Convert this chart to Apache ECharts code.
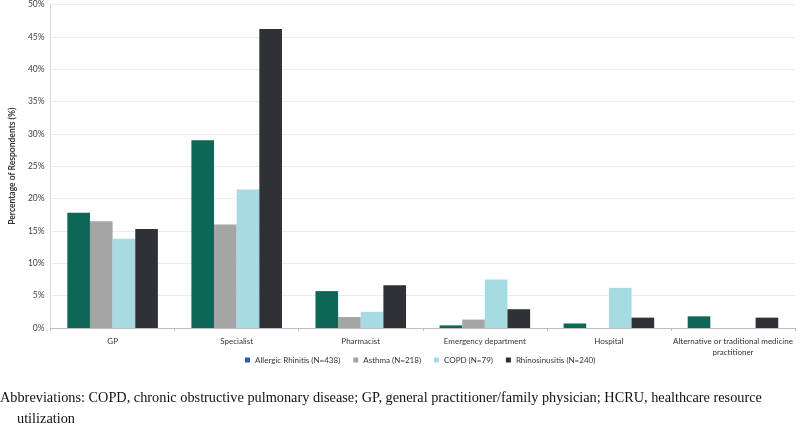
<!DOCTYPE html>
<html><head><meta charset="utf-8">
<script src="https://cdn.jsdelivr.net/npm/echarts@6/dist/echarts.min.js"></script>
<style>html,body{margin:0;padding:0;background:#fff}#c{width:800px;height:431px}</style>
</head><body><div id="c"></div>
<script>
const categories = ["GP", "Specialist", "Pharmacist", "Emergency department", "Hospital", "Alternative or traditional medicine\npractitioner"];
const allergicRhinitis = [17.8, 29.0, 5.7, 0.4, 0.7, 1.8];
const asthma = [16.5, 16.0, 1.7, 1.3, 0, 0];
const copd = [13.8, 21.4, 2.5, 7.5, 6.2, 0];
const rhinosinusitis = [15.3, 46.2, 6.6, 2.9, 1.6, 1.6];
const seriesNames = ["Allergic Rhinitis (N=438)", "Asthma (N=218)", "COPD (N=79)", "Rhinosinusitis (N=240)"];
const yTicks = [0, 5, 10, 15, 20, 25, 30, 35, 40, 45, 50];

const colors = ["#0d6656", "#a5a5a5", "#a6dbe3", "#2e3237"];
const legendIconColors = ["#2a5db0", "#a5a5a5", "#a6dbe3", "#2e3237"];
const font = "Lato";
const chart = echarts.init(document.getElementById('c'));
const values = [allergicRhinitis, asthma, copd, rhinosinusitis];
chart.setOption({
  animation: false,
  textStyle: {fontFamily: font},
  grid: {left: 46, right: 5, top: 3, bottom: 103, containLabel: false},
  legend: {
    top: 351, left: 240,
    itemWidth: 5, itemHeight: 5, itemGap: 13,
    textStyle: {fontSize: 8, color: '#333', fontFamily: font},
    data: seriesNames.map((n, i) => ({name: n, icon: 'rect', itemStyle: {color: legendIconColors[i]}}))
  },
  xAxis: {
    type: 'category', data: categories,
    axisLine: {lineStyle: {color: '#bdbdbd'}},
    axisTick: {show: true, length: 3, lineStyle: {color: '#bdbdbd'}},
    axisLabel: {fontSize: 8, color: '#333', interval: 0, margin: 8, lineHeight: 11, fontFamily: font}
  },
  yAxis: {
    type: 'value', min: yTicks[0], max: yTicks[yTicks.length - 1], interval: 5,
    name: 'Percentage of Respondents (%)', nameLocation: 'middle', nameGap: 28,
    nameTextStyle: {fontSize: 8.5, color: '#333', fontWeight: 'bold', fontFamily: font},
    axisLine: {show: true, lineStyle: {color: '#d9d9d9'}},
    axisTick: {show: false},
    axisLabel: {formatter: '{value}%', fontSize: 8.5, color: '#444', margin: 6, fontFamily: font},
    splitLine: {lineStyle: {color: '#ececec'}}
  },
  series: values.map((v, i) => ({
    name: seriesNames[i], type: 'bar', data: v,
    barGap: '0%', barCategoryGap: '27%',
    itemStyle: {color: colors[i]}
  })),
  graphic: [
    {type: 'text', left: 0, top: 391, style: {text: 'Abbreviations: COPD, chronic obstructive pulmonary disease; GP, general practitioner/family physician; HCRU, healthcare resource', font: '14.3px "Liberation Serif"', fill: '#111'}},
    {type: 'text', left: 17, top: 412, style: {text: 'utilization', font: '14.3px "Liberation Serif"', fill: '#111'}}
  ]
});
</script></body></html>
